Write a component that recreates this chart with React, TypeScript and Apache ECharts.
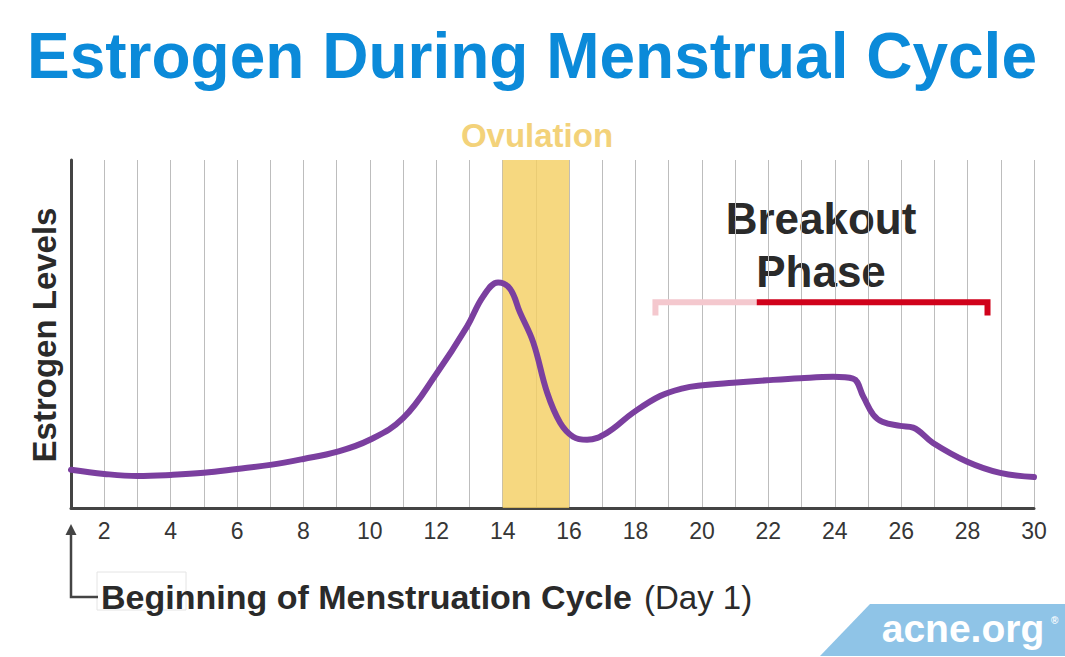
import React, { useEffect, useRef } from "react";
import * as echarts from "echarts";

const days = [1, 2, 3, 4, 5, 6, 7, 8, 9, 10, 11, 12, 12.93, 13.41, 13.86, 14.22, 14.52, 14.92, 15.34, 15.73, 16.12, 16.54, 17.14, 17.93, 18.74, 19.43, 19.95, 20.94, 21.96, 22.96, 23.95, 24.55, 24.86, 25.16, 25.43, 25.97, 26.36, 26.96, 27.99, 28.98, 30];
const estrogen = [11.0, 9.8, 9.2, 9.5, 10.1, 11.2, 12.4, 14.1, 16.1, 19.6, 25.8, 38.5, 52.2, 60.8, 64.8, 63.0, 56.2, 47.6, 33.1, 24.5, 20.5, 19.6, 21.6, 27.4, 32.2, 34.4, 35.2, 36.0, 36.7, 37.3, 37.7, 37.2, 32.0, 26.8, 24.8, 23.6, 23.1, 18.7, 13.3, 10.1, 8.9];
const tickLabels = ["2", "4", "6", "8", "10", "12", "14", "16", "18", "20", "22", "24", "26", "28", "30"];
const ovulation = [14, 16];
const breakoutEarly = [[18.6, 55.3], [18.6, 59.1], [21.65, 59.1]];
const breakoutMain = [[21.65, 59.1], [28.6, 59.1], [28.6, 55.3]];

const FONT = "'Liberation Sans', Arial, Helvetica, sans-serif";

export default function App() {
  const ref = useRef<HTMLDivElement>(null);
  useEffect(() => {
    if (!ref.current) return;
    const chart = echarts.init(ref.current, null, { renderer: "svg" });
    const curve = days.map((d, i) => [d, estrogen[i]]);
    chart.setOption({
      animation: false,
      backgroundColor: "#ffffff",
      grid: { left: 71, right: 31, top: 160, bottom: 149 },
      xAxis: {
        type: "value",
        min: 1,
        max: 30,
        interval: 1,
        axisLine: { show: true, lineStyle: { color: "#444444", width: 3 } },
        axisTick: { show: false },
        splitLine: { show: true, lineStyle: { color: "#bdbdbd", width: 1 } },
        axisLabel: {
          margin: 11,
          fontFamily: FONT,
          fontSize: 23,
          color: "#363636",
          formatter: (v: number) => (tickLabels.includes(String(v)) ? String(v) : ""),
        },
      },
      yAxis: {
        type: "value",
        min: 0,
        max: 100,
        axisLine: { show: true, lineStyle: { color: "#444444", width: 3 } },
        axisTick: { show: false },
        axisLabel: { show: false },
        splitLine: { show: false },
      },
      series: [
        {
          type: "line",
          data: [],
          z: 1,
          markArea: {
            silent: true,
            itemStyle: { color: "rgba(244,207,100,0.82)" },
            data: [[{ xAxis: ovulation[0] }, { xAxis: ovulation[1] }]],
          },
        },
        {
          type: "line",
          data: breakoutEarly,
          symbol: "none",
          z: 2,
          lineStyle: { color: "#f4c8ce", width: 6, join: "miter", cap: "butt" },
        },
        {
          type: "line",
          data: breakoutMain,
          symbol: "none",
          z: 2,
          lineStyle: { color: "#d0021b", width: 6, join: "miter", cap: "butt" },
        },
        {
          type: "line",
          data: curve,
          smooth: 0.4,
          symbol: "none",
          z: 3,
          lineStyle: { color: "#7b3f9f", width: 6, join: "round", cap: "round" },
        },
      ],
      graphic: [
        {
          type: "text",
          x: 532,
          y: 56,
          style: {
            text: "Estrogen During Menstrual Cycle",
            font: `bold 64px ${FONT}`,
            fill: "#0b8ad9",
            align: "center",
            verticalAlign: "middle",
          },
        },
        {
          type: "text",
          x: 537,
          y: 135,
          style: {
            text: "Ovulation",
            font: `bold 33px ${FONT}`,
            fill: "#f3d27a",
            align: "center",
            verticalAlign: "middle",
          },
        },
        {
          type: "text",
          x: 44,
          y: 335,
          rotation: Math.PI / 2,
          style: {
            text: "Estrogen Levels",
            font: `bold 33px ${FONT}`,
            fill: "#2a2a2a",
            align: "center",
            verticalAlign: "middle",
          },
        },
        {
          type: "text",
          x: 821,
          y: 218,
          style: {
            text: "Breakout",
            font: `bold 44px ${FONT}`,
            fill: "#2a2a2a",
            align: "center",
            verticalAlign: "middle",
          },
        },
        {
          type: "text",
          x: 821,
          y: 271,
          style: {
            text: "Phase",
            font: `bold 44px ${FONT}`,
            fill: "#2a2a2a",
            align: "center",
            verticalAlign: "middle",
          },
        },
        {
          type: "rect",
          shape: { x: 97, y: 572, width: 89, height: 38 },
          style: { fill: "none", stroke: "#e4e4e4", lineWidth: 1 },
        },
        {
          type: "polyline",
          shape: { points: [[71, 532], [71, 597], [98, 597]] },
          style: { stroke: "#444444", lineWidth: 2.5, fill: "none" },
        },
        {
          type: "polygon",
          shape: { points: [[71, 524], [65.5, 535], [76.5, 535]] },
          style: { fill: "#444444" },
        },
        {
          type: "text",
          x: 101,
          y: 597,
          style: {
            text: "Beginning of Menstruation Cycle",
            font: `bold 34px ${FONT}`,
            fill: "#2a2a2a",
            align: "left",
            verticalAlign: "middle",
          },
        },
        {
          type: "text",
          x: 644,
          y: 597,
          style: {
            text: "(Day 1)",
            font: `33px ${FONT}`,
            fill: "#2a2a2a",
            align: "left",
            verticalAlign: "middle",
          },
        },
        {
          type: "polygon",
          shape: { points: [[820, 656], [870, 604], [1065, 604], [1065, 656]] },
          style: { fill: "#8fc4e7" },
        },
        {
          type: "text",
          x: 963,
          y: 628,
          style: {
            text: "acne.org",
            font: `bold 39px ${FONT}`,
            fill: "#ffffff",
            align: "center",
            verticalAlign: "middle",
          },
        },
        {
          type: "text",
          x: 1051,
          y: 620,
          style: {
            text: "®",
            font: `bold 10px ${FONT}`,
            fill: "#ffffff",
            align: "left",
            verticalAlign: "middle",
          },
        },
      ],
    });
    return () => chart.dispose();
  }, []);
  return (
    <div
      ref={ref}
      style={{ position: "fixed", left: 0, top: 0, width: 1065, height: 657, background: "#fff" }}
    />
  );
}
